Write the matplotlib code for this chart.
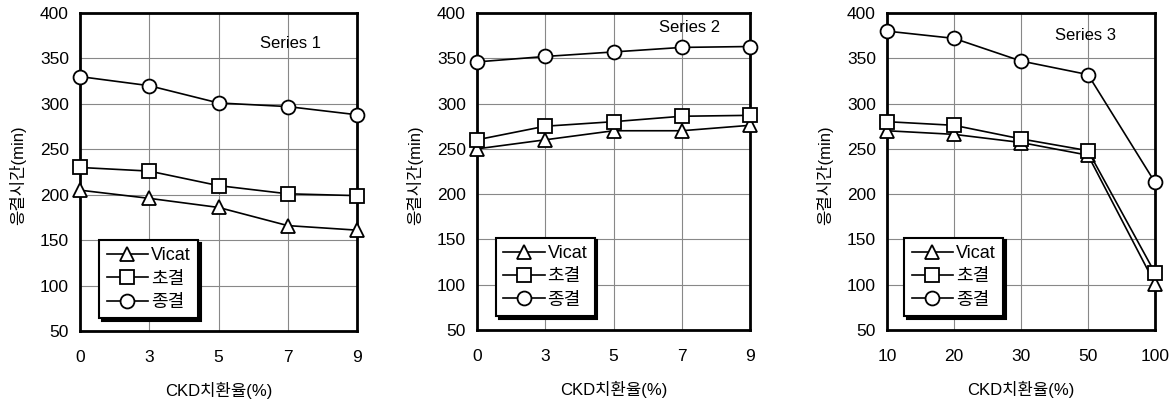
import matplotlib
matplotlib.use("Agg")
import matplotlib.pyplot as plt

plt.rcParams['font.family'] = ['Liberation Sans', 'Noto Sans CJK KR', 'DejaVu Sans']

series_names = ["Vicat", "초결", "종결"]
markers = ["^", "s", "o"]

x_labels_1 = ["0", "3", "5", "7", "9"]
vicat_1 = [205, 196, 186, 166, 161]
initial_1 = [230, 226, 210, 201, 199]
final_1 = [330, 320, 301, 297, 288]

x_labels_2 = ["0", "3", "5", "7", "9"]
vicat_2 = [250, 260, 270, 270, 276]
initial_2 = [260, 275, 280, 286, 287]
final_2 = [346, 352, 357, 362, 363]

x_labels_3 = ["10", "20", "30", "50", "100"]
vicat_3 = [270, 266, 257, 243, 101]
initial_3 = [280, 276, 261, 248, 113]
final_3 = [380, 372, 347, 332, 213]

panels = [
    ("Series 1", x_labels_1, [vicat_1, initial_1, final_1]),
    ("Series 2", x_labels_2, [vicat_2, initial_2, final_2]),
    ("Series 3", x_labels_3, [vicat_3, initial_3, final_3]),
]

W, H = 1176, 399
fig = plt.figure(figsize=(W / 100, H / 100), dpi=100)

# pixel boxes: left, right, top, bottom
boxes = [(80, 357, 13, 331), (477, 750, 13, 330), (887, 1155, 13, 330)]
title_pos = [(0.76, 0.905), (0.78, 0.955), (0.74, 0.93)]
legend_pos = [(0.07, 0.04), (0.07, 0.045), (0.065, 0.045)]
ylabel_x = [18, 415, 825]

for (title, xl, ys), (l, r, t, b), tp, lp, ylx in zip(panels, boxes, title_pos, legend_pos, ylabel_x):
    ax = fig.add_axes([l / W, (H - b) / H, (r - l) / W, (b - t) / H])
    xs = list(range(len(xl)))
    for name, mk, y in zip(series_names, markers, ys):
        ax.plot(xs, y, color="black", lw=1.2, marker=mk, markersize=10,
                markerfacecolor="white", markeredgecolor="black", markeredgewidth=1.3,
                label=name, clip_on=False, zorder=3)
    ax.set_xlim(0, len(xl) - 1)
    ax.set_ylim(50, 400)
    ax.set_xticks(xs)
    ax.set_xticklabels(xl)
    ax.set_yticks(range(50, 401, 50))
    ax.grid(True, color="#888888", lw=0.8)
    ax.set_axisbelow(True)
    for s in ax.spines.values():
        s.set_linewidth(2)
        s.set_color("black")
    ax.tick_params(axis="both", length=0, labelsize=12.5)
    ax.tick_params(axis="x", pad=14)
    ax.tick_params(axis="y", pad=8)
    ax.set_xlabel("CKD치환율(%)", fontsize=12, labelpad=12)
    ax.text(tp[0], tp[1], title, transform=ax.transAxes, ha="center", va="center", fontsize=12)
    fig.text(ylx / W, 0.56, "응결시간(min)", rotation=90, ha="center", va="center", fontsize=12)
    leg = ax.legend(loc="lower left", bbox_to_anchor=lp, frameon=True,
                    shadow={"color": "black", "alpha": 1.0},
                    fancybox=False, edgecolor="black", fontsize=13, handlelength=2.3,
                    borderpad=0.4, labelspacing=0.35, handletextpad=0.15, borderaxespad=0)
    leg.get_frame().set_linewidth(1.5)
    leg.set_zorder(5)

fig.savefig("out.png", dpi=100)
